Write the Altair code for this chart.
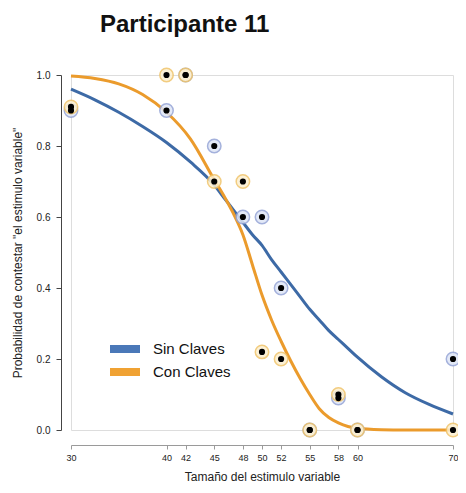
import altair as alt
import pandas as pd

# ---- data ----
x_ticks = [30, 40, 42, 45, 48, 50, 52, 55, 58, 60, 70]
sin_vals = [0.90, 0.90, 1.00, 0.80, 0.60, 0.60, 0.40, 0.00, 0.09, 0.00, 0.20]
con_vals = [0.91, 1.00, 1.00, 0.70, 0.70, 0.22, 0.20, 0.00, 0.10, 0.00, 0.00]

curve_x = [30, 32.5, 35, 37.5, 40, 42.5, 45, 46, 47, 48, 49, 50, 51, 52, 53, 54,
           55, 56, 57, 58, 59, 60, 62.5, 65, 67.5, 70]
sin_curve = [0.96, 0.93, 0.895, 0.855, 0.81, 0.755, 0.69, 0.655, 0.62, 0.585, 0.55,
             0.52, 0.48, 0.445, 0.41, 0.375, 0.34, 0.31, 0.28, 0.255, 0.23, 0.205,
             0.15, 0.105, 0.072, 0.045]
con_curve = [0.997, 0.99, 0.975, 0.945, 0.895, 0.82, 0.705, 0.66, 0.61, 0.55, 0.465,
             0.38, 0.31, 0.25, 0.195, 0.145, 0.10, 0.06, 0.035, 0.02, 0.01, 0.005,
             0.001, 0.0, 0.0, 0.0]

series = ["Sin Claves", "Con Claves"]
line_colors = ["#3d6aa6", "#eb9b2c"]
swatch_colors = ["#4a78b8", "#f0a233"]
ring_fill = {"Sin Claves": "#dfe6f6", "Con Claves": "#fcefcf"}
ring_stroke = {"Sin Claves": "#95a4d6", "Con Claves": "#f0c46a"}
y_ticks = [0.0, 0.2, 0.4, 0.6, 0.8, 1.0]

FONT = "Liberation Sans"

pts = pd.DataFrame(
    [{"x": x, "y": v, "g": "Sin Claves"} for x, v in zip(x_ticks, sin_vals)]
    + [{"x": x, "y": v, "g": "Con Claves"} for x, v in zip(x_ticks, con_vals)]
)
curves = pd.DataFrame(
    [{"x": x, "y": v, "g": "Sin Claves"} for x, v in zip(curve_x, sin_curve)]
    + [{"x": x, "y": v, "g": "Con Claves"} for x, v in zip(curve_x, con_curve)]
)

xscale = alt.Scale(domain=[30, 70], nice=False, zero=False)
yscale = alt.Scale(domain=[0, 1], nice=False)

x_axis = alt.Axis(
    values=x_ticks, offset=15, tickSize=4, labelFontSize=9, labelColor="#222",
    labelFont=FONT, labelPadding=4, labelFlush=False, labelOverlap=False,
    domainColor="#9a9a9a", tickColor="#9a9a9a", grid=False,
    title="Tamaño del estimulo variable", titleFont=FONT, titleFontSize=12,
    titleFontWeight="normal", titleColor="#222", titlePadding=9)
y_axis = alt.Axis(
    values=y_ticks, format=".1f", offset=10, tickSize=5, labelFontSize=10,
    labelColor="#222", labelFont=FONT, labelPadding=6, labelFlush=False,
    labelOverlap=False, domainColor="#444", tickColor="#444", grid=False,
    title='Probabilidad de contestar "el estimulo variable"', titleFont=FONT,
    titleFontSize=12, titleFontWeight="normal", titleColor="#222", titlePadding=12)

def xe():
    return alt.X("x:Q", scale=xscale, axis=x_axis)

def ye():
    return alt.Y("y:Q", scale=yscale, axis=y_axis)

lines = alt.Chart(curves).mark_line(strokeWidth=3, interpolate="monotone", clip=False).encode(
    x=xe(), y=ye(),
    stroke=alt.Stroke("g:N", scale=alt.Scale(domain=series, range=line_colors), legend=None),
    detail="g:N",
)

legend_layer = alt.Chart(curves).mark_point(filled=True, opacity=0, clip=False).encode(
    x=xe(), y=ye(),
    color=alt.Color("g:N", scale=alt.Scale(domain=series, range=swatch_colors),
                    legend=alt.Legend(
                        title=None, orient="none", legendX=44, legendY=264,
                        symbolType="M-1.5,-0.4H1.5V0.4H-1.5Z", symbolSize=400,
                        symbolOpacity=1, symbolStrokeWidth=0,
                        labelFont=FONT, labelFontSize=15, labelColor="#111",
                        labelOffset=18, rowPadding=5, padding=0)),
)

rings = alt.Chart(pts).mark_circle(size=180, opacity=0.85, strokeWidth=1.5, clip=False).encode(
    x=xe(), y=ye(),
    fill=alt.Fill("g:N", scale=alt.Scale(domain=series, range=[ring_fill[s] for s in series]), legend=None),
    stroke=alt.Stroke("g:N", scale=alt.Scale(domain=series, range=[ring_stroke[s] for s in series]), legend=None),
)
dots = alt.Chart(pts).mark_circle(size=38, color="#000", opacity=1, clip=False).encode(
    x=xe(), y=ye(),
)

chart = alt.layer(lines, legend_layer, rings, dots).resolve_scale(
    fill="independent", stroke="independent", color="independent"
).properties(
    width=382, height=355,
    title=alt.TitleParams("Participante 11", font=FONT, fontSize=24, fontWeight="bold",
                          color="#111", anchor="start", frame="group", dx=29, offset=28),
    autosize=alt.AutoSizeParams(type="none"),
    padding={"left": 63, "top": 67, "right": 5, "bottom": 55},
).configure_view(stroke=None).configure_axis(labelOverlap=False).configure(background="white")

chart.save("out.html", embed_options={"renderer": "svg", "actions": False})
